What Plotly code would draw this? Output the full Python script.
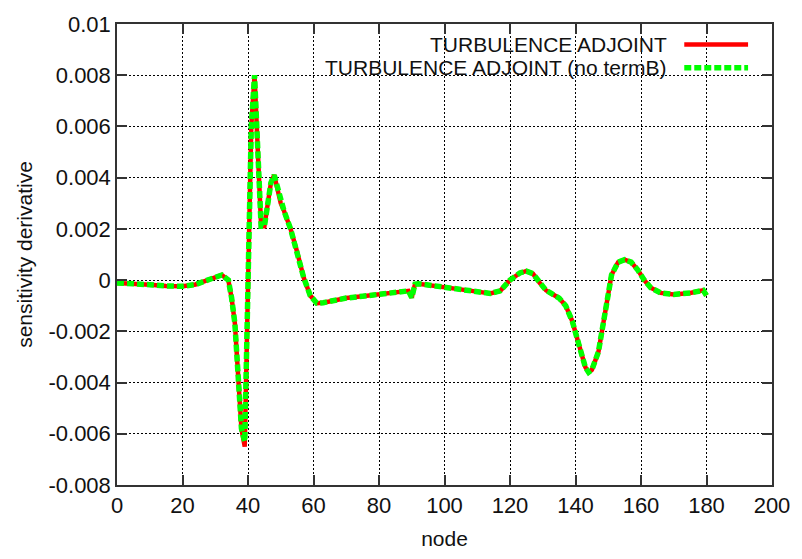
import plotly.graph_objects as go

# ---- data ----
nodes = [0, 5, 10, 15, 20, 24, 27, 30, 32, 34, 35, 36, 37, 38, 39, 40, 41, 42,
         43, 44, 45, 46, 47, 48, 49, 50, 51, 53, 55, 57, 59, 61, 63, 66, 70,
         75, 80, 85, 89, 90, 91, 92, 96, 100, 105, 110, 114, 117, 120, 123,
         125, 127, 129, 131, 133, 135, 137, 139, 141, 143, 144, 145, 147, 149,
         151, 153, 155, 157, 159, 161, 163, 166, 170, 175, 179, 180]

turb_adjoint = [-0.00011, -0.00013, -0.00018, -0.00023, -0.00024, -0.00017,
                -0.00002, 0.00013, 0.0002, 0.0, -0.0007, -0.0017, -0.0036,
                -0.0058, -0.0065, -0.0003, 0.006, 0.008, 0.0045, 0.0021,
                0.0021, 0.003, 0.0038, 0.0041, 0.0036, 0.003, 0.0027, 0.002,
                0.0011, 0.0001, -0.0006, -0.0009, -0.00088, -0.0008, -0.0007,
                -0.00063, -0.00056, -0.00048, -0.00042, -0.00068, -0.00016,
                -0.00014, -0.0002, -0.00027, -0.00035, -0.00045, -0.00052,
                -0.00042, 0.0, 0.00028, 0.00035, 0.00025, -0.0001, -0.0004,
                -0.00055, -0.0007, -0.001, -0.0016, -0.0025, -0.0034, -0.0036,
                -0.0035, -0.0028, -0.0012, 0.0002, 0.0007, 0.0008, 0.0007,
                0.0004, 0.0, -0.0003, -0.0005, -0.00056, -0.0005, -0.0004,
                -0.0006]

turb_adjoint_no_termB = [-0.00011, -0.00013, -0.00018, -0.00023, -0.00024,
                         -0.00017, -0.00002, 0.00013, 0.0002, 0.0, -0.0007,
                         -0.0017, -0.0036, -0.0058, -0.0063, -0.0003, 0.006,
                         0.008, 0.0045, 0.0021, 0.0021, 0.003, 0.0038, 0.0041,
                         0.0036, 0.003, 0.0027, 0.002, 0.0011, 0.0001, -0.0006,
                         -0.0009, -0.00088, -0.0008, -0.0007, -0.00063,
                         -0.00056, -0.00048, -0.00042, -0.00068, -0.00016,
                         -0.00014, -0.0002, -0.00027, -0.00035, -0.00045,
                         -0.00052, -0.00042, 0.0, 0.00028, 0.00035, 0.00025,
                         -0.0001, -0.0004, -0.00055, -0.0007, -0.001, -0.0016,
                         -0.0025, -0.0034, -0.0036, -0.0035, -0.0028, -0.0012,
                         0.0002, 0.0007, 0.0008, 0.0007, 0.0004, 0.0, -0.0003,
                         -0.0005, -0.00056, -0.0005, -0.0004, -0.0006]

series_names = ["TURBULENCE ADJOINT", "TURBULENCE ADJOINT (no termB)"]
x_ticks = [0, 20, 40, 60, 80, 100, 120, 140, 160, 180, 200]
y_ticks = [-0.008, -0.006, -0.004, -0.002, 0, 0.002, 0.004, 0.006, 0.008, 0.01]
y_tick_text = ["-0.008", "-0.006", "-0.004", "-0.002", "0", "0.002", "0.004",
               "0.006", "0.008", "0.01"]

FONT = "Liberation Sans, Arial, sans-serif"
TXT = "#111"

fig = go.Figure()
fig.add_trace(go.Scatter(x=nodes, y=turb_adjoint, mode="lines",
                         name=series_names[0],
                         line=dict(color="#ff0000", width=4.5)))
fig.add_trace(go.Scatter(x=nodes, y=turb_adjoint_no_termB, mode="lines",
                         name=series_names[1],
                         line=dict(color="#00ff00", width=5.5, dash="7px,3px")))

# opaque key box (covers grid, not ticks)
fig.add_shape(type="rect", xref="paper", yref="paper",
              x0=(275 - 117) / 657, x1=(765 - 117) / 657,
              y0=(492 - 74) / 474, y1=(492 - 21) / 474,
              fillcolor="white", line=dict(width=0), layer="between")

# key entries: text right-aligned, sample on the right
key_y = [39, 63]
for i, name in enumerate(series_names):
    yp = (492 - key_y[i]) / 474
    fig.add_annotation(x=(671 - 117) / 657, y=yp, xref="paper", yref="paper",
                       text=name, showarrow=False, xanchor="right",
                       yanchor="middle",
                       font=dict(family=FONT, size=21, color=TXT))
fig.add_shape(type="line", xref="paper", yref="paper",
              x0=(686 - 117) / 657, x1=(750 - 117) / 657,
              y0=(492 - key_y[0]) / 474, y1=(492 - key_y[0]) / 474,
              line=dict(color="#ff0000", width=4.5), layer="above")
fig.add_shape(type="line", xref="paper", yref="paper",
              x0=(686 - 117) / 657, x1=(750 - 117) / 657,
              y0=(492 - key_y[1]) / 474, y1=(492 - key_y[1]) / 474,
              line=dict(color="#00ff00", width=5.5, dash="7px,3px"),
              layer="above")

axis_common = dict(showline=True, linecolor="#333", linewidth=1.5,
                   mirror="ticks", ticks="inside", ticklen=10, tickwidth=1.5,
                   tickcolor="#333", showgrid=True, gridcolor="#000",
                   gridwidth=1, griddash="2px,2px", zeroline=False,
                   tickfont=dict(family=FONT, size=22, color=TXT))

fig.update_xaxes(range=[0, 200], tickvals=x_ticks,
                 title=dict(text="node", font=dict(family=FONT, size=21,
                                                  color=TXT), standoff=14),
                 **axis_common)
fig.update_yaxes(range=[-0.008, 0.01], tickvals=y_ticks, ticktext=y_tick_text,
                 title=dict(text="sensitivity derivative",
                            font=dict(family=FONT, size=21, color=TXT),
                            standoff=10),
                 **axis_common)

fig.update_layout(width=802, height=559, showlegend=False,
                  margin=dict(l=117, r=28, t=18, b=67),
                  paper_bgcolor="white", plot_bgcolor="white",
                  font=dict(family=FONT))

fig.write_html("out.html")
